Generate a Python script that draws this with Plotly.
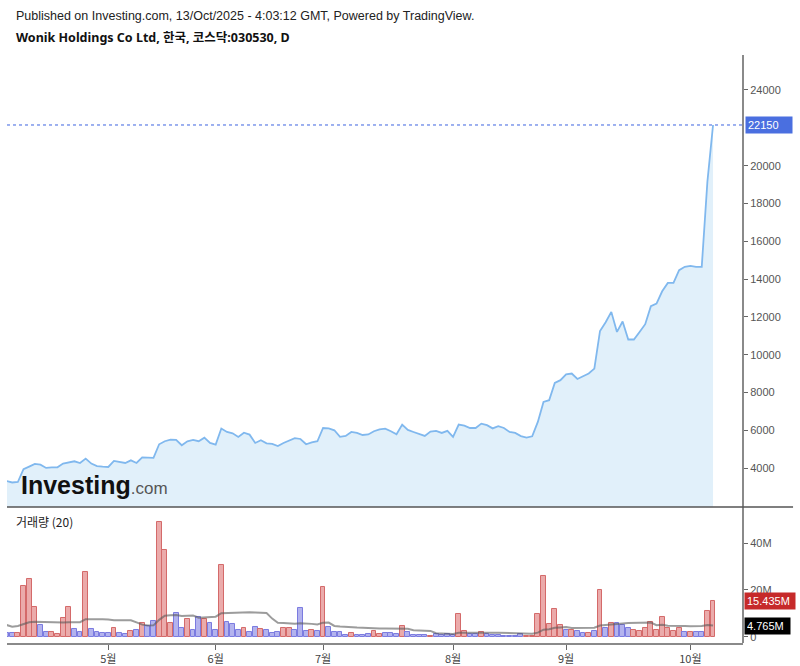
import plotly.graph_objects as go
import pandas as pd

# ---------------- data ----------------
close_price = [
    3330, 3250, 3275, 3950, 4090, 4230, 4195, 4020, 4050, 4055,
    4250, 4330, 4370, 4280, 4510, 4250, 4120, 4090, 4070, 4390,
    4330, 4280, 4420, 4280, 4580, 4565, 4550, 5270, 5430, 5520,
    5500, 5220, 5430, 5500, 5430, 5620, 5340, 5250, 6100, 5920,
    5850, 5660, 5880, 5780, 5340, 5480, 5320, 5290, 5180, 5340,
    5480, 5590, 5550, 5270, 5370, 5430, 6130, 6110, 6010, 5660,
    5710, 5920, 5870, 5760, 5790, 5960, 6060, 6100, 5960, 5800,
    6310, 6030, 5920, 5820, 5710, 5940, 5980, 5870, 5980, 5660,
    6310, 6260, 6130, 6130, 6360, 6280, 6110, 6230, 6130, 5920,
    5870, 5700, 5620, 5690, 6450, 7510, 7600, 8510, 8660, 8970,
    9010, 8720, 8870, 9010, 9270, 11260, 11720, 12270, 11210, 11760,
    10810, 10810, 11210, 11620, 12570, 12710, 13360, 13800, 13800, 14470,
    14650, 14700, 14650, 14650, 19150, 22150,
]

volume_m = [
    1.7, 1.7, 1.6, 21.7, 24.8, 12.6, 5.0, 2.1, 2.0, 1.3,
    7.9, 12.7, 3.4, 2.0, 27.6, 3.2, 2.2, 1.6, 1.6, 3.9,
    1.6, 1.3, 2.4, 3.0, 5.7, 4.7, 6.7, 49.0, 37.0, 5.7,
    10.3, 3.8, 7.4, 3.0, 8.3, 7.4, 5.7, 3.0, 30.8, 6.4,
    5.6, 3.0, 3.7, 2.0, 4.2, 3.2, 2.7, 1.6, 2.0, 3.9,
    3.9, 3.0, 12.3, 2.3, 3.0, 2.3, 21.3, 4.0, 1.9, 1.9,
    0.6, 1.4, 0.6, 0.6, 1.0, 2.4, 1.0, 1.4, 1.4, 1.2,
    4.7, 1.9, 0.6, 0.6, 0.6, 0.4, 1.0, 0.6, 1.2, 0.6,
    9.9, 2.5, 1.0, 1.0, 1.9, 1.0, 0.6, 0.6, 0.3, 0.3,
    0.3, 1.2, 0.3, 0.3, 9.6, 26.0, 5.3, 11.9, 5.0, 3.0,
    3.0, 2.3, 1.4, 1.4, 2.6, 19.9, 3.7, 5.7, 6.0, 5.0,
    3.9, 3.0, 2.3, 3.6, 6.4, 3.0, 8.4, 3.6, 2.6, 3.9,
    1.9, 1.9, 1.9, 1.9, 11.1, 15.435,
]

# 1 = up day (red), 0 = down day (blue)
up_day = [
    0, 0, 1, 1, 1, 1, 0, 0, 1, 1,
    1, 1, 0, 0, 1, 0, 0, 0, 0, 1,
    0, 0, 1, 0, 1, 0, 0, 1, 1, 1,
    0, 0, 1, 0, 0, 1, 0, 0, 1, 0,
    0, 0, 1, 0, 0, 1, 0, 0, 0, 1,
    1, 0, 0, 0, 1, 0, 1, 0, 0, 0,
    0, 1, 0, 0, 0, 1, 1, 0, 0, 0,
    1, 0, 0, 0, 0, 1, 0, 0, 0, 0,
    1, 1, 0, 0, 1, 0, 0, 0, 0, 0,
    0, 0, 1, 1, 1, 1, 1, 1, 1, 0,
    1, 0, 0, 1, 0, 1, 0, 1, 0, 0,
    0, 1, 1, 1, 1, 1, 1, 1, 1, 1,
    0, 1, 0, 0, 1, 1,
]

# 20-day volume MA for the first bars (window reaches before the visible range)
volume_ma_head_m = [5.0, 4.3, 4.6, 5.4, 6.2, 6.4, 6.3, 6.2, 6.2, 6.1,
                    6.1, 6.2, 6.2, 6.2, 7.5, 7.6, 7.6, 7.5, 7.4]

month_tick_index = [18, 37, 56, 79, 99, 121]
month_tick_text = ["5월", "6월", "7월", "8월", "9월", "10월"]
price_ticks = [4000, 6000, 8000, 10000, 12000, 14000, 16000, 18000, 20000, 24000]

last_price = 22150
last_volume_label = "15.435M"
last_ma_label = "4.765M"
last_ma_value_m = 4.765

# ---------------- derived ----------------
n = len(close_price)
idx = list(range(n))
volume = [v * 1e6 for v in volume_m]
ma = pd.Series(volume).rolling(20).mean().tolist()
for i, v in enumerate(volume_ma_head_m):
    ma[i] = v * 1e6

RED_FILL, RED_LINE = "#ebabab", "#d46a6a"
BLUE_FILL, BLUE_LINE = "#b3b3ee", "#7b7be0"
bar_fill = [RED_FILL if u else BLUE_FILL for u in up_day]
bar_line = [RED_LINE if u else BLUE_LINE for u in up_day]

SPLIT = 0.2313  # paper y of pane separator

fig = go.Figure()
fig.add_trace(go.Scatter(
    x=idx, y=close_price, mode="lines",
    line=dict(color="#80b8ee", width=1.8),
    fill="tozeroy", fillcolor="#e1f0fa",
    xaxis="x", yaxis="y", hoverinfo="skip", showlegend=False,
))
fig.add_trace(go.Bar(
    x=idx, y=volume, width=0.86,
    marker=dict(color=bar_fill, line=dict(color=bar_line, width=1)),
    xaxis="x", yaxis="y2", showlegend=False, hoverinfo="skip",
))
fig.add_trace(go.Scatter(
    x=idx, y=ma, mode="lines",
    line=dict(color="rgba(90,90,90,0.6)", width=2),
    xaxis="x", yaxis="y2", showlegend=False, hoverinfo="skip",
))

axis_font = dict(family="Liberation Sans, Arial, Noto Sans CJK KR", size=11, color="#555")

fig.update_layout(
    width=800, height=666,
    margin=dict(l=7, r=57, t=55, b=23),
    paper_bgcolor="white", plot_bgcolor="white",
    bargap=0,
    xaxis=dict(
        range=[0.08, 130.3], anchor="y2", automargin=False,
        tickmode="array", tickvals=month_tick_index, ticktext=month_tick_text,
        ticks="outside", ticklen=5, tickcolor="#666", tickwidth=1,
        tickfont=dict(family="Noto Sans CJK KR, Liberation Sans", size=11, color="#444"),
        showline=True, linecolor="#8a8a8a", linewidth=2,
        showgrid=False, zeroline=False,
    ),
    yaxis=dict(
        domain=[SPLIT, 1], side="right", anchor="x", automargin=False,
        range=[1954, 25850],
        tickmode="array", tickvals=price_ticks, ticktext=[str(t) for t in price_ticks],
        ticks="outside", ticklen=4, tickcolor="#666",
        tickfont=axis_font,
        showgrid=False, zeroline=False, showline=False,
    ),
    yaxis2=dict(
        domain=[0, SPLIT], side="right", anchor="x", automargin=False,
        range=[-2.7e6, 55.5e6],
        tickmode="array", tickvals=[0, 20e6, 40e6], ticktext=["0", "20M", "40M"],
        ticks="outside", ticklen=4, tickcolor="#666",
        tickfont=axis_font,
        showgrid=False, zeroline=False, showline=False,
    ),
)

shapes = [
    dict(type="line", xref="paper", yref="paper", x0=1, x1=1, y0=0, y1=1,
         line=dict(color="#8a8a8a", width=2)),
    dict(type="line", xref="paper", yref="paper", x0=0, x1=1.068, y0=SPLIT, y1=SPLIT,
         line=dict(color="#555", width=1.5)),
    dict(type="line", xref="paper", yref="y", x0=0, x1=1, y0=last_price, y1=last_price,
         line=dict(color="#3d64e0", width=1, dash="dot")),
]
fig.update_layout(shapes=shapes)

annotations = [
    dict(xref="paper", yref="paper", x=0.0095, y=1.066, xanchor="left", yanchor="middle",
         text="Published on Investing.com, 13/Oct/2025 - 4:03:12 GMT, Powered by TradingView.",
         showarrow=False, font=dict(family="Liberation Sans, Arial", size=12.5, color="#222")),
    dict(xref="paper", yref="paper", x=0.0095, y=1.029, xanchor="left", yanchor="middle",
         text="<b>Wonik Holdings Co Ltd, 한국, 코스닥:030530, D</b>",
         showarrow=False, font=dict(family="Noto Sans, Noto Sans CJK KR", size=12.5, color="#111")),
    dict(xref="paper", yref="paper", x=0.0095, y=0.2058, xanchor="left", yanchor="middle",
         text="거래량 (20)", showarrow=False,
         font=dict(family="Noto Sans CJK KR, Noto Sans", size=12, color="#222")),
    dict(xref="paper", yref="paper", x=0.0165, y=0.2687, xanchor="left", yanchor="middle",
         text="<b>Investing</b><span style='font-size:17px;color:#555;font-weight:normal'>.com</span>",
         showarrow=False, font=dict(family="Liberation Sans, Arial", size=25, color="#111")),
    dict(xref="paper", yref="y", x=1, y=last_price, xanchor="left", yanchor="middle",
         xshift=2, text=str(last_price), showarrow=False, bgcolor="#4a6fe0",
         borderpad=2, width=42, align="left",
         font=dict(family="Liberation Sans, Arial", size=11, color="white")),
    dict(xref="paper", yref="y2", x=1, y=volume[-1], xanchor="left", yanchor="middle",
         xshift=1, text=last_volume_label, showarrow=False, bgcolor="#c62a2a",
         borderpad=2, width=46, align="left",
         font=dict(family="Liberation Sans, Arial", size=11, color="white")),
    dict(xref="paper", yref="y2", x=1, y=last_ma_value_m * 1e6, xanchor="left", yanchor="middle",
         xshift=1, text=last_ma_label, showarrow=False, bgcolor="#000000",
         borderpad=2, width=41, align="left",
         font=dict(family="Liberation Sans, Arial", size=11, color="white")),
]
fig.update_layout(annotations=annotations)

fig.write_html("out.html", config={"displayModeBar": False},
               post_script="document.body.style.margin='0';")
